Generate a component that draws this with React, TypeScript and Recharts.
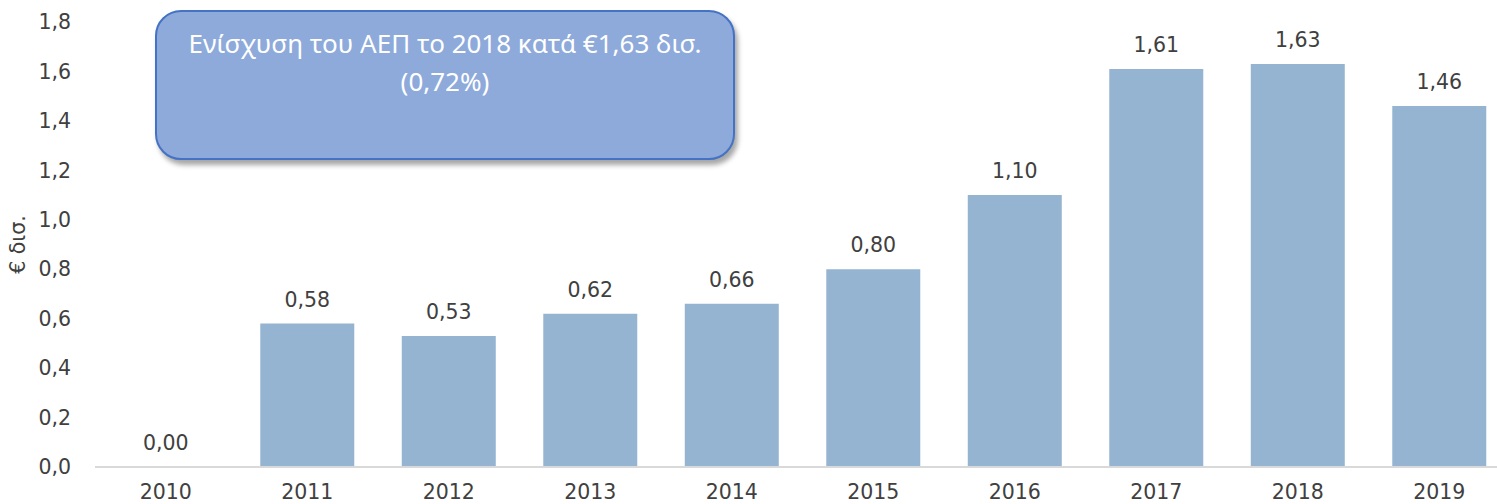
import { ComposedChart, Bar, Line, XAxis, YAxis } from 'recharts'

const years = ['2010', '2011', '2012', '2013', '2014', '2015', '2016', '2017', '2018', '2019']
const gdpBoost = [0, 0.58, 0.53, 0.62, 0.66, 0.8, 1.1, 1.61, 1.63, 1.46]
const yTicks = [0, 0.2, 0.4, 0.6, 0.8, 1.0, 1.2, 1.4, 1.6, 1.8]
const noteLines = ['Ενίσχυση του ΑΕΠ το 2018 κατά €1,63 δισ.', '(0,72%)']

const data = years.map((year, i) => ({ year, value: gdpBoost[i] }))

const font = '"DejaVu Sans", sans-serif'
const textColor = '#404040'

const comma = (v: number, digits: number) => v.toFixed(digits).replace('.', ',')

// bar labels skip zero-height bars, so values are drawn from an invisible line's points
const ValueLabel = (props: any) => {
  const { x, y, value } = props
  return (
    <text x={x} y={y - 17} textAnchor="middle" fill={textColor} fontSize={20.5} fontFamily={font}>
      {comma(Number(value), 2)}
    </text>
  )
}

export default function App() {
  return (
    <div style={{ position: 'absolute', left: 0, top: 0, width: 1497, height: 504, overflow: 'hidden', background: '#fff' }}>
      <ComposedChart
        width={1510}
        height={504}
        data={data}
        margin={{ top: 22, right: 0, bottom: 0, left: 0 }}
        barCategoryGap="16.8%"
      >
        <XAxis
          dataKey="year"
          height={37}
          tickLine={false}
          axisLine={{ stroke: '#d9d9d9', strokeWidth: 2 }}
          tick={{ fill: textColor, fontSize: 20.5, fontFamily: font }}
          tickMargin={11}
          interval={0}
        />
        <YAxis
          width={95}
          domain={[0, 1.8]}
          ticks={yTicks}
          interval={0}
          axisLine={false}
          tickLine={false}
          tickFormatter={(v: number) => comma(v, 1)}
          tick={{ fill: textColor, fontSize: 20.5, fontFamily: font }}
          tickMargin={18}
          label={{
            value: '€ δισ.',
            angle: -90,
            position: 'insideLeft',
            offset: 18,
            style: { fill: textColor, fontSize: 20.5, fontFamily: font, textAnchor: 'middle' },
          }}
        />
        <Bar dataKey="value" fill="#95b4d1" isAnimationActive={false} />
        <Line
          dataKey="value"
          stroke="none"
          dot={false}
          activeDot={false}
          isAnimationActive={false}
          label={ValueLabel}
        />
      </ComposedChart>
      <div
        style={{
          position: 'absolute',
          left: 155,
          top: 10,
          width: 580,
          height: 150,
          boxSizing: 'border-box',
          background: '#8eaadb',
          border: '2px solid #4472c4',
          borderRadius: 26,
          boxShadow: '3px 5px 5px rgba(0,0,0,0.35)',
          color: '#fff',
          fontFamily: '"Noto Sans", sans-serif',
          fontSize: 26,
          lineHeight: '38px',
          textAlign: 'center',
          paddingTop: 12,
        }}
      >
        {noteLines.map((line) => (
          <div key={line}>{line}</div>
        ))}
      </div>
    </div>
  )
}
